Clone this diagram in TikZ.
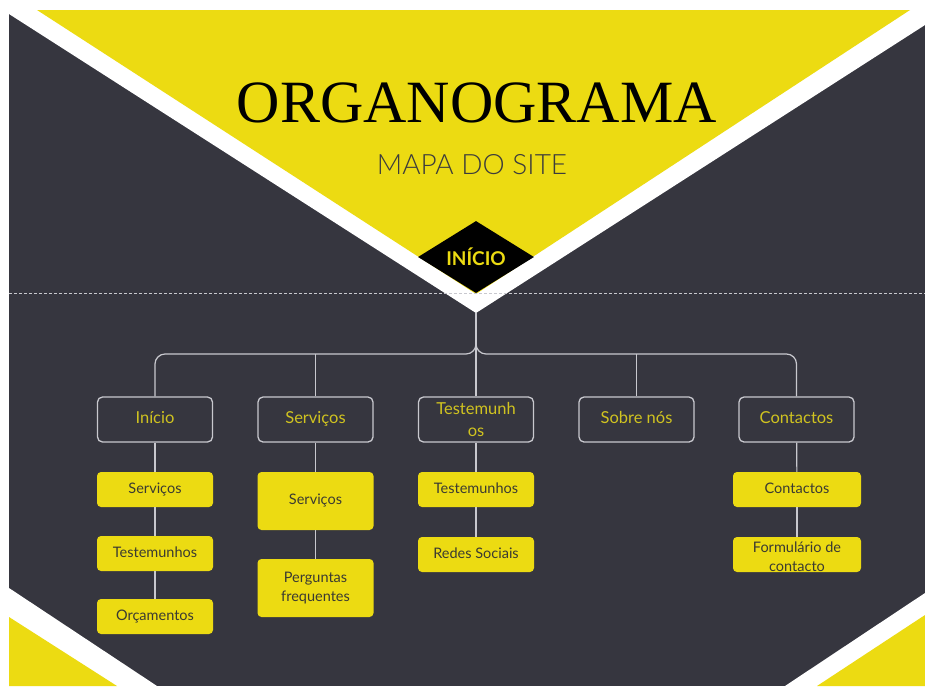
\documentclass[tikz,border=0pt]{standalone}
\usepackage{fontspec}
\setmainfont{Liberation Serif}
\setsansfont{Lato}
\newfontfamily\lightfont{Lato Light}
\usetikzlibrary{shapes.geometric,positioning}

\definecolor{bgdark}{RGB}{54,54,63}
\definecolor{siteyellow}{RGB}{236,219,18}
\definecolor{linegray}{RGB}{200,200,206}
\definecolor{labelyellow}{RGB}{208,195,32}
\definecolor{textdark}{RGB}{58,58,50}
\definecolor{subgray}{RGB}{60,60,60}

\tikzset{
	pagebox/.style={draw=linegray, line width=1.3pt, rounded corners=5pt, minimum width=115pt, minimum height=45pt, inner sep=0pt, align=center, text=labelyellow, font=\sffamily\fontsize{16.5}{22}\selectfont},
	subbox/.style={fill=siteyellow, rounded corners=4pt, minimum width=116pt, minimum height=35pt, inner sep=0pt, align=center, text=textdark, font=\sffamily\fontsize{14.5}{19.5}\selectfont},
	oneline/.style={text height=0.7em, text depth=0pt},
	link/.style={draw=linegray, line width=1.2pt}
}

\begin{document}
\begin{tikzpicture}[x=1pt,y=-1pt]
	\useasboundingbox (0,0) rectangle (925,686);
	\fill [white] (0,0) rectangle (925,686);
	\fill [bgdark] (9,10) rectangle (925,686);
	
	% top V
	\fill [white] (9,10) -- (9,14) -- (476,313) -- (925,25) -- (925,10) -- cycle;
	\fill [siteyellow] (37,10) -- (476,294) -- (910,10) -- cycle;
	
	% bottom corners
	\fill [white] (9,588) -- (157,686) -- (9,686) -- cycle;
	\fill [siteyellow] (9,617) -- (117,686) -- (9,686) -- cycle;
	\fill [white] (925,593) -- (785,686) -- (925,686) -- cycle;
	\fill [siteyellow] (925,615) -- (817,686) -- (925,686) -- cycle;
	
	\draw [linegray, line width=0.6pt, dash pattern=on 3pt off 2pt] (9,293) -- (925,293);
	
	% % % % % % % % % % % % % % % % % % % % % % % % % %
	
	\node [anchor=base, font=\fontsize{60}{60}\selectfont] (title) at (477,122) {ORGANOGRAMA};
	\node [anchor=base, text=subgray, font=\lightfont\fontsize{28}{28}\selectfont] (subtitle) at (472,174) {MAPA DO SITE};
	
	\node [diamond, fill=black, aspect=1.6, minimum width=116pt, minimum height=72pt, inner sep=0pt, text=siteyellow, font=\sffamily\bfseries\fontsize{19}{19}\selectfont] (home) at (476,257) {INÍCIO};
	
	\coordinate (apex) at (476,313);
	\coordinate (fork) at (476,344);
	\coordinate (forkbase) at (476,354);
	
	% pages
	\node [pagebox, oneline] (inicio) at (155,419.5) {Início};
	\node [pagebox, oneline] (servicos) at (315.5,419.5) {Serviços};
	\node [pagebox] (testemunhos) at (476,419.5) {Testemunh\\os};
	\node [pagebox, oneline] (sobre) at (636.5,419.5) {Sobre nós};
	\node [pagebox, oneline] (contactos) at (796.5,419.5) {Contactos};
	
	% sections
	\node [subbox, oneline] (ini1) at (155,489.5) {Serviços};
	\node [subbox, oneline] (ini2) at (155,553.5) {Testemunhos};
	\node [subbox, oneline] (ini3) at (155,616.5) {Orçamentos};
	
	\node [subbox, oneline, minimum height=58pt] (serv1) at (315.5,501) {Serviços};
	\node [subbox, minimum height=58pt] (serv2) at (315.5,588) {Perguntas\\frequentes};
	
	\node [subbox, oneline] (test1) at (476,489.5) {Testemunhos};
	\node [subbox, oneline] (test2) at (476,554.5) {Redes Sociais};
	
	\node [subbox, oneline, minimum width=128pt] (cont1) at (797,489.5) {Contactos};
	\node [subbox, minimum width=128pt, text depth=0pt] (cont2) at (797,554.5) {\raisebox{7pt}{\parbox{128pt}{\centering Formulário de\\contacto}}};
	
	% % % % % % % % % % % % % % % % % % % % % % % % % %
	
	\draw [link] (apex) -- (testemunhos.north);
	\draw [link, rounded corners=10pt] (inicio.north) |- (forkbase) -- (fork);
	\draw [link, rounded corners=10pt] (contactos.north) |- (forkbase) -- (fork);
	\draw [link] (servicos.north) -- (servicos.north |- forkbase);
	\draw [link] (sobre.north) -- (sobre.north |- forkbase);
	
	\draw [link] (inicio) -- (ini1);
	\draw [link] (ini1) -- (ini2);
	\draw [link] (ini2) -- (ini3);
	\draw [link] (servicos) -- (serv1);
	\draw [link] (serv1) -- (serv2);
	\draw [link] (testemunhos) -- (test1);
	\draw [link] (test1) -- (test2);
	\draw [link] (contactos) -- (cont1);
	\draw [link] (cont1) -- (cont2);
\end{tikzpicture}
\end{document}
